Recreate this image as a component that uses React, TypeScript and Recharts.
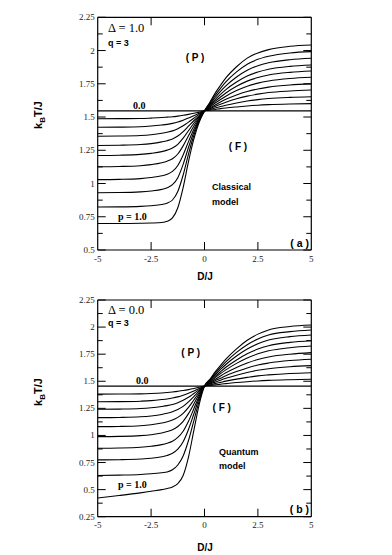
import { LineChart, Line, XAxis, YAxis } from "recharts"

// D/J sample positions shared by every curve
const dValues = [-5, -4, -3, -2.5, -2, -1.75, -1.5, -1.25, -1, -0.75, -0.5, -0.25, 0, 0.25, 0.5, 0.75, 1, 1.5, 2, 2.5, 3, 4, 5]

// (a) classical model, Delta = 1.0 ; p = 0.0 ... 1.0
const classicalP00 = [1.546, 1.546, 1.546, 1.546, 1.546, 1.546, 1.546, 1.546, 1.546, 1.546, 1.546, 1.546, 1.546, 1.546, 1.546, 1.546, 1.546, 1.546, 1.546, 1.546, 1.546, 1.546, 1.546]
const classicalP01 = [1.487, 1.488, 1.489, 1.492, 1.496, 1.499, 1.502, 1.507, 1.513, 1.52, 1.528, 1.537, 1.546, 1.552, 1.557, 1.563, 1.568, 1.576, 1.583, 1.589, 1.593, 1.598, 1.601]
const classicalP02 = [1.423, 1.424, 1.427, 1.432, 1.44, 1.445, 1.452, 1.462, 1.476, 1.492, 1.51, 1.528, 1.546, 1.557, 1.568, 1.579, 1.589, 1.606, 1.62, 1.631, 1.639, 1.648, 1.653]
const classicalP03 = [1.355, 1.357, 1.361, 1.367, 1.378, 1.386, 1.396, 1.412, 1.434, 1.462, 1.491, 1.52, 1.546, 1.563, 1.58, 1.596, 1.611, 1.637, 1.657, 1.672, 1.684, 1.696, 1.703]
const classicalP04 = [1.286, 1.288, 1.293, 1.3, 1.313, 1.322, 1.335, 1.357, 1.39, 1.431, 1.472, 1.511, 1.546, 1.568, 1.591, 1.613, 1.633, 1.666, 1.692, 1.711, 1.725, 1.741, 1.749]
const classicalP05 = [1.211, 1.213, 1.219, 1.227, 1.24, 1.251, 1.267, 1.295, 1.341, 1.397, 1.453, 1.503, 1.546, 1.575, 1.605, 1.632, 1.657, 1.699, 1.732, 1.755, 1.771, 1.79, 1.799]
const classicalP06 = [1.126, 1.128, 1.134, 1.142, 1.156, 1.168, 1.186, 1.222, 1.283, 1.359, 1.432, 1.495, 1.546, 1.581, 1.618, 1.651, 1.681, 1.731, 1.77, 1.797, 1.816, 1.836, 1.846]
const classicalP07 = [1.029, 1.031, 1.037, 1.045, 1.058, 1.07, 1.091, 1.136, 1.215, 1.315, 1.408, 1.486, 1.546, 1.587, 1.631, 1.67, 1.706, 1.763, 1.808, 1.838, 1.859, 1.881, 1.891]
const classicalP08 = [0.931, 0.932, 0.937, 0.944, 0.956, 0.968, 0.991, 1.044, 1.144, 1.271, 1.385, 1.478, 1.546, 1.595, 1.647, 1.693, 1.734, 1.801, 1.852, 1.886, 1.908, 1.931, 1.942]
const classicalP09 = [0.823, 0.824, 0.828, 0.833, 0.842, 0.852, 0.876, 0.94, 1.064, 1.221, 1.361, 1.47, 1.546, 1.603, 1.663, 1.716, 1.764, 1.839, 1.897, 1.934, 1.957, 1.982, 1.992]
const classicalP10 = [0.699, 0.699, 0.701, 0.703, 0.707, 0.716, 0.741, 0.818, 0.97, 1.165, 1.334, 1.461, 1.546, 1.611, 1.68, 1.739, 1.794, 1.878, 1.943, 1.982, 2.007, 2.032, 2.042]

// (b) quantum model, Delta = 0.0 ; p = 0.0 ... 1.0
const quantumP00 = [1.456, 1.456, 1.456, 1.456, 1.456, 1.456, 1.456, 1.456, 1.456, 1.456, 1.456, 1.456, 1.456, 1.456, 1.456, 1.456, 1.456, 1.456, 1.456, 1.456, 1.456, 1.456, 1.456]
const quantumP01 = [1.381, 1.382, 1.384, 1.387, 1.392, 1.396, 1.401, 1.407, 1.414, 1.423, 1.434, 1.445, 1.456, 1.462, 1.467, 1.473, 1.478, 1.488, 1.496, 1.503, 1.508, 1.514, 1.518]
const quantumP02 = [1.311, 1.312, 1.316, 1.321, 1.331, 1.337, 1.345, 1.356, 1.371, 1.389, 1.411, 1.434, 1.456, 1.467, 1.479, 1.49, 1.501, 1.52, 1.536, 1.55, 1.559, 1.572, 1.579]
const quantumP03 = [1.241, 1.243, 1.248, 1.255, 1.267, 1.275, 1.286, 1.302, 1.324, 1.352, 1.387, 1.423, 1.456, 1.474, 1.492, 1.51, 1.527, 1.556, 1.581, 1.601, 1.616, 1.634, 1.644]
const quantumP04 = [1.164, 1.166, 1.172, 1.18, 1.194, 1.205, 1.219, 1.239, 1.268, 1.309, 1.359, 1.41, 1.456, 1.48, 1.505, 1.528, 1.552, 1.59, 1.623, 1.65, 1.668, 1.691, 1.703]
const quantumP05 = [1.081, 1.083, 1.09, 1.099, 1.114, 1.126, 1.142, 1.167, 1.204, 1.259, 1.327, 1.396, 1.456, 1.487, 1.518, 1.549, 1.578, 1.627, 1.668, 1.701, 1.724, 1.75, 1.764]
const quantumP06 = [0.989, 0.991, 0.998, 1.007, 1.023, 1.036, 1.053, 1.083, 1.13, 1.201, 1.29, 1.381, 1.456, 1.493, 1.533, 1.57, 1.605, 1.665, 1.715, 1.753, 1.781, 1.81, 1.825]
const quantumP07 = [0.882, 0.884, 0.891, 0.9, 0.915, 0.928, 0.947, 0.982, 1.039, 1.131, 1.246, 1.362, 1.456, 1.499, 1.545, 1.588, 1.629, 1.697, 1.754, 1.797, 1.828, 1.859, 1.874]
const quantumP08 = [0.774, 0.776, 0.782, 0.789, 0.803, 0.815, 0.835, 0.873, 0.942, 1.055, 1.198, 1.343, 1.456, 1.506, 1.559, 1.609, 1.655, 1.733, 1.798, 1.846, 1.88, 1.912, 1.927]
const quantumP09 = [0.63, 0.634, 0.64, 0.646, 0.656, 0.663, 0.683, 0.727, 0.81, 0.953, 1.135, 1.317, 1.456, 1.512, 1.572, 1.628, 1.679, 1.766, 1.837, 1.89, 1.927, 1.958, 1.973]
const quantumP10 = [0.423, 0.445, 0.47, 0.485, 0.5, 0.51, 0.525, 0.555, 0.63, 0.8, 1.045, 1.285, 1.456, 1.518, 1.586, 1.647, 1.704, 1.799, 1.878, 1.935, 1.974, 2.005, 2.019]

const xTicks = [-5, -2.5, 0, 2.5, 5]
const yTicksA = [0.5, 0.625, 0.75, 0.875, 1, 1.125, 1.25, 1.375, 1.5, 1.625, 1.75, 1.875, 2, 2.125, 2.25]
const yTicksB = [0.25, 0.375, 0.5, 0.625, 0.75, 0.875, 1, 1.125, 1.25, 1.375, 1.5, 1.625, 1.75, 1.875, 2, 2.125, 2.25]

const classicalSeries = [classicalP00, classicalP01, classicalP02, classicalP03, classicalP04, classicalP05, classicalP06, classicalP07, classicalP08, classicalP09, classicalP10]
const quantumSeries = [quantumP00, quantumP01, quantumP02, quantumP03, quantumP04, quantumP05, quantumP06, quantumP07, quantumP08, quantumP09, quantumP10]

const serif = "'Liberation Serif', 'Times New Roman', serif"
const sans = "'Liberation Sans', Arial, sans-serif"

function buildRows(series: number[][]) {
  return dValues.map((d, i) => {
    const row: Record<string, number> = { d }
    series.forEach((s, k) => {
      row[`p${k}`] = s[i]
    })
    return row
  })
}

const isMajorY = (v: number) => Math.abs(v * 4 - Math.round(v * 4)) < 1e-6
const isInnerX = (v: number) => Math.abs(v) < 4.9

function LeftTick(props: any) {
  const { x, y, payload } = props
  const major = isMajorY(payload.value)
  return (
    <g>
      <line x1={x} x2={x + (major ? 8 : 5)} y1={y} y2={y} stroke="#000" strokeWidth={1} />
      {major && (
        <text x={x - 3} y={y + 3} textAnchor="end" fontFamily={serif} fontSize={9} fill="#222">
          {payload.value}
        </text>
      )}
    </g>
  )
}

function RightTick(props: any) {
  const { x, y, payload } = props
  const major = isMajorY(payload.value)
  return <line x1={x} x2={x - (major ? 8 : 5)} y1={y} y2={y} stroke="#000" strokeWidth={1} />
}

function BottomTick(props: any) {
  const { x, y, payload } = props
  return (
    <g>
      {isInnerX(payload.value) && <line x1={x} x2={x} y1={y} y2={y - 8} stroke="#000" strokeWidth={1} />}
      <text x={x} y={y + 11.5} textAnchor="middle" fontFamily={serif} fontSize={9} fill="#222">
        {payload.value}
      </text>
    </g>
  )
}

function TopTick(props: any) {
  const { x, y, payload } = props
  if (!isInnerX(payload.value)) return <g />
  return <line x1={x} x2={x} y1={y} y2={y + 8} stroke="#000" strokeWidth={1} />
}

function Panel({ series, yDomain, yTicks, height, margin }: any) {
  const rows = buildRows(series)
  const axisLine = { stroke: "#000", strokeWidth: 1.2 }
  return (
    <LineChart width={392} height={height} data={rows} margin={margin}>
      <XAxis dataKey="d" type="number" domain={[-5, 5]} ticks={xTicks} interval={0} height={20}
        tickSize={0} tickMargin={0} tickLine={false} axisLine={axisLine} tick={<BottomTick />} allowDataOverflow />
      <XAxis xAxisId="top" dataKey="d" orientation="top" type="number" domain={[-5, 5]} ticks={xTicks} interval={0}
        height={1} tickSize={0} tickMargin={0} tickLine={false} axisLine={axisLine} tick={<TopTick />} allowDataOverflow />
      <YAxis type="number" domain={yDomain} ticks={yTicks} interval={0} width={40}
        tickSize={0} tickMargin={0} tickLine={false} axisLine={axisLine} tick={<LeftTick />} allowDataOverflow />
      <YAxis yAxisId="right" orientation="right" type="number" domain={yDomain} ticks={yTicks} interval={0} width={1}
        tickSize={0} tickMargin={0} tickLine={false} axisLine={axisLine} tick={<RightTick />} allowDataOverflow />
      {series.map((_: number[], k: number) => (
        <Line key={k} dataKey={`p${k}`} type="monotone" stroke="#000" strokeWidth={k === 0 ? 1.3 : 1.1}
          dot={false} activeDot={false} isAnimationActive={false} />
      ))}
      {/* invisible copy of the p = 0 line so the top / right frame axes get drawn */}
      <Line xAxisId="top" yAxisId="right" dataKey="p0" stroke="none" strokeWidth={0}
        dot={false} activeDot={false} isAnimationActive={false} />
    </LineChart>
  )
}

function YTitle({ cx, cy }: { cx: number; cy: number }) {
  return (
    <text transform={`translate(${cx},${cy}) rotate(-90)`} textAnchor="middle" fontFamily={sans} fontWeight="bold" fontSize={11}>
      k<tspan fontSize={8} dy={3}>B</tspan><tspan dy={-3}>T/J</tspan>
    </text>
  )
}

export default function App() {
  const t = { fontFamily: sans, fontWeight: "bold" as const }
  const s = { fontFamily: serif }
  return (
    <div style={{ position: "absolute", left: 0, top: 0, width: 392, height: 555, background: "#fff" }}>
      <div style={{ position: "absolute", left: 0, top: 0 }}>
        <Panel series={classicalSeries} yDomain={[0.5, 2.25]} yTicks={yTicksA} height={290}
          margin={{ top: 16.3, right: 79.7, bottom: 20, left: 57.7 }} />
      </div>
      <div style={{ position: "absolute", left: 0, top: 290 }}>
        <Panel series={quantumSeries} yDomain={[0.25, 2.25]} yTicks={yTicksB} height={265}
          margin={{ top: 9, right: 79.7, bottom: 18.3, left: 57.7 }} />
      </div>
      <svg width={392} height={555} style={{ position: "absolute", left: 0, top: 0, pointerEvents: "none" }}>
        {/* panel (a) */}
        <text x={108} y={32} {...s} fontSize={12.5}>Δ = 1.0</text>
        <text x={108} y={45.5} {...t} fontSize={9}>q = 3</text>
        <text x={195} y={61} {...t} fontSize={10} textAnchor="middle">( P )</text>
        <text x={133} y={109.3} {...s} fontWeight="bold" fontSize={10}>0.0</text>
        <text x={238} y={149.5} {...t} fontSize={10} textAnchor="middle">( F )</text>
        <text x={212} y={190} {...t} fontSize={9}>Classical</text>
        <text x={212} y={204.7} {...t} fontSize={9}>model</text>
        <text x={118} y={220} {...s} fontWeight="bold" fontSize={10}>p = 1.0</text>
        <text x={309} y={247} {...t} fontSize={10.5} textAnchor="end">( a )</text>
        <text x={205} y={280} {...t} fontSize={10} textAnchor="middle">D/J</text>
        <YTitle cx={42} cy={115} />
        {/* panel (b) */}
        <text x={108} y={314} {...s} fontSize={12.5}>Δ = 0.0</text>
        <text x={108} y={325.5} {...t} fontSize={9}>q = 3</text>
        <text x={190.7} y={356} {...t} fontSize={10} textAnchor="middle">( P )</text>
        <text x={136} y={384.3} {...s} fontWeight="bold" fontSize={10}>0.0</text>
        <text x={221.7} y={410.5} {...t} fontSize={10} textAnchor="middle">( F )</text>
        <text x={219} y={454.5} {...t} fontSize={9}>Quantum</text>
        <text x={219} y={469} {...t} fontSize={9}>model</text>
        <text x={118} y={488} {...s} fontWeight="bold" fontSize={10}>p = 1.0</text>
        <text x={309} y={512.5} {...t} fontSize={10.5} textAnchor="end">( b )</text>
        <text x={205} y={551} {...t} fontSize={10} textAnchor="middle">D/J</text>
        <YTitle cx={42} cy={392} />
      </svg>
    </div>
  )
}
